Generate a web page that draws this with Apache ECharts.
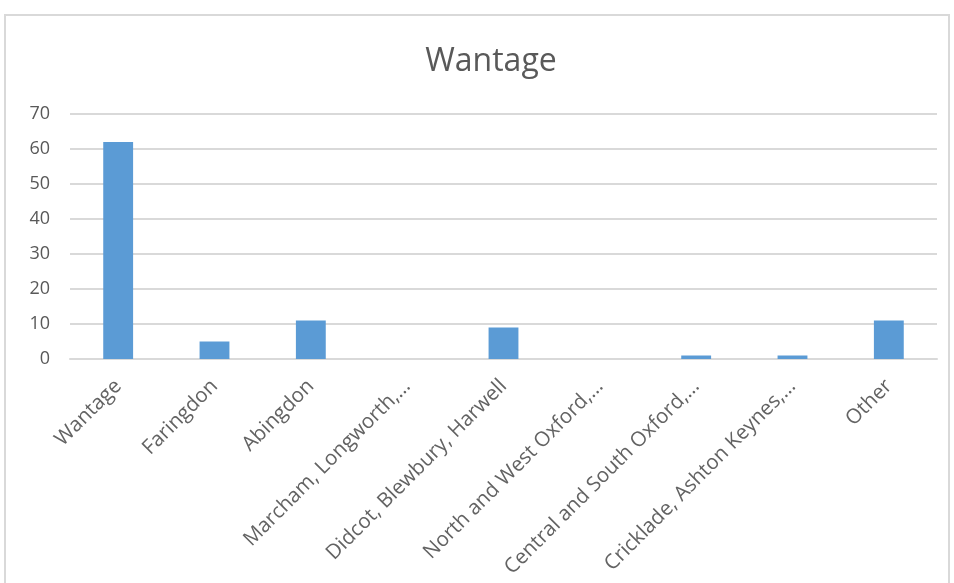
<!DOCTYPE html>
<html>
<head>
<meta charset="utf-8">
<script src="https://cdn.jsdelivr.net/npm/echarts@6/dist/echarts.min.js"></script>
<style>
  html, body { margin: 0; padding: 0; background: #fff; }
  #chart { width: 954px; height: 583px; }
</style>
</head>
<body>
<div id="chart"></div>
<script>
// category labels as they appear (Excel truncated the long ones)
var categories = ['Wantage', 'Faringdon', 'Abingdon', 'Marcham, Longworth,…',
    'Didcot, Blewbury, Harwell', 'North and West Oxford,…', 'Central and South Oxford,…',
    'Cricklade, Ashton Keynes,…', 'Other'];
var values = [62, 5, 11, 0, 9, 0, 1, 1, 11];
var yTicks = [0, 10, 20, 30, 40, 50, 60, 70];

var fontFam = '"Open Sans", "Noto Sans", sans-serif';
var myChart = echarts.init(document.getElementById('chart'));

var option = {
    animation: false,
    backgroundColor: '#fff',
    title: {
        text: 'Wantage',
        left: 486,
        textAlign: 'center',
        top: 41,
        textStyle: { fontFamily: fontFam, fontSize: 32, fontWeight: 'normal', color: '#595959' }
    },
    graphic: [{
        type: 'rect',
        shape: { x: 5, y: 15, width: 944, height: 580 },
        style: { fill: 'none', stroke: '#d9d9d9', lineWidth: 2 },
        silent: true
    }],
    grid: { left: 70, right: 17, top: 114, bottom: 224 },
    xAxis: {
        type: 'category',
        data: categories,
        axisTick: { show: false },
        axisLine: { lineStyle: { color: '#d9d9d9', width: 2 } },
        axisLabel: {
            interval: 0,
            rotate: 45,
            margin: 24,
            fontFamily: fontFam,
            fontSize: 20.5,
            color: '#636363'
        }
    },
    yAxis: {
        type: 'value',
        min: yTicks[0],
        max: yTicks[yTicks.length - 1],
        interval: 10,
        axisLine: { show: false },
        axisTick: { show: false },
        splitLine: { lineStyle: { color: '#d9d9d9', width: 2 } },
        axisLabel: { fontFamily: fontFam, fontSize: 18, color: '#595959', margin: 20 }
    },
    series: [{
        type: 'bar',
        data: values,
        barWidth: '31%',
        itemStyle: { color: '#5b9bd5' }
    }]
};

myChart.setOption(option);
</script>
</body>
</html>
